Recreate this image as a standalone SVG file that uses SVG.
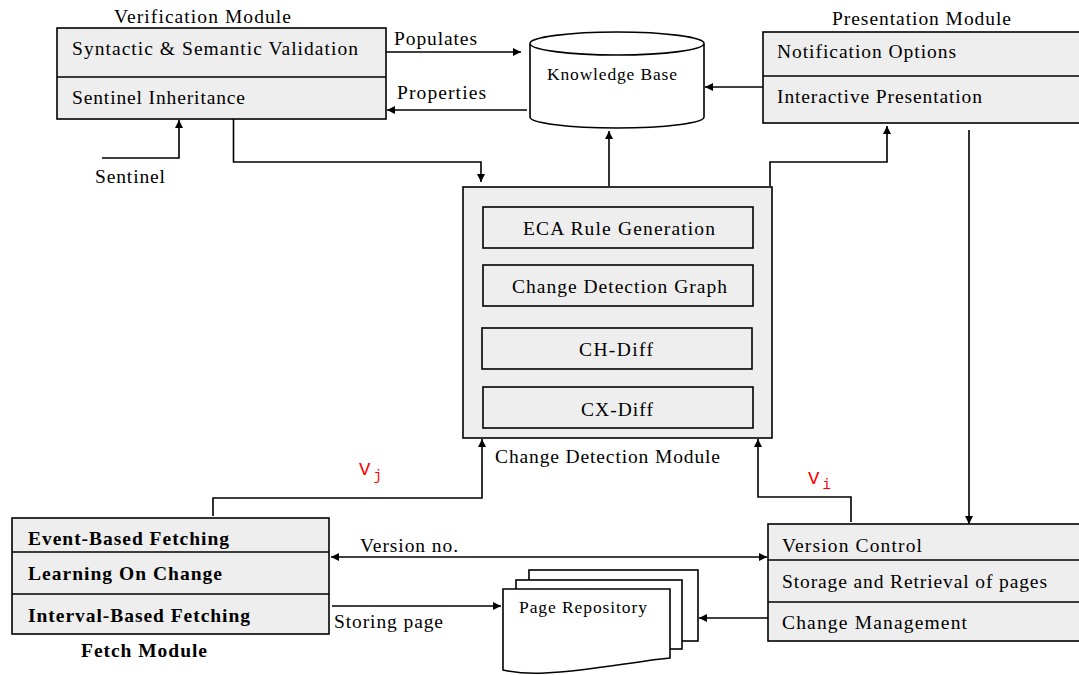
<svg xmlns="http://www.w3.org/2000/svg" width="1079" height="675" viewBox="0 0 1079 675">
  <style>
    .box { fill: #eeeeee; stroke: #000; stroke-width: 1.6; }
    .sub { fill: #eeeeee; stroke: #000; stroke-width: 1.6; }
    .div { stroke: #000; stroke-width: 1.6; }
    .doc { fill: #fff; stroke: #000; stroke-width: 1.6; }
    .t { font-family: "Liberation Serif", "Times New Roman", serif; font-size: 19.5px; fill: #000; }
    .s { font-family: "Liberation Serif", "Times New Roman", serif; font-size: 17.5px; fill: #000; }
    .b { font-family: "Liberation Serif", "Times New Roman", serif; font-size: 19.5px; font-weight: bold; fill: #000; }
    .v { font-family: "Liberation Mono", "Courier New", monospace; font-size: 19px; fill: #ff0000; }
    .ln { fill: none; stroke: #000; stroke-width: 1.6; }
  </style>
  <defs>
    <marker id="ah" viewBox="0 0 10 10" refX="10" refY="5" markerWidth="9" markerHeight="8" orient="auto-start-reverse" markerUnits="userSpaceOnUse">
      <path d="M0,0 L10,5 L0,10 z" fill="#000"/>
    </marker>
  </defs>
  <rect width="1079" height="675" fill="#fff"/>

  <!-- Verification Module -->
  <g id="verification-module">
    <text class="t" x="114" y="23" textLength="177" lengthAdjust="spacing">Verification Module</text>
    <rect class="box" x="57" y="28" width="329" height="91"/>
    <line class="div" x1="57" y1="77" x2="386" y2="77"/>
    <text class="t" x="72" y="55" textLength="286" lengthAdjust="spacing">Syntactic &amp; Semantic Validation</text>
    <text class="t" x="72" y="104" textLength="173" lengthAdjust="spacing">Sentinel Inheritance</text>
  </g>

  <!-- Knowledge Base -->
  <g id="knowledge-base">
    <path class="doc" d="M530,44 V117 A87,11 0 0 0 704,117 V44"/>
    <ellipse class="doc" cx="617" cy="43.5" rx="87" ry="11.5"/>
    <text class="s" x="547" y="80" textLength="130" lengthAdjust="spacing">Knowledge Base</text>
  </g>

  <!-- Presentation Module -->
  <g id="presentation-module">
    <text class="t" x="832" y="25" textLength="179" lengthAdjust="spacing">Presentation Module</text>
    <rect class="box" x="763" y="32" width="318" height="91"/>
    <line class="div" x1="763" y1="76" x2="1079" y2="76"/>
    <text class="t" x="777" y="58" textLength="179" lengthAdjust="spacing">Notification Options</text>
    <text class="t" x="777" y="103" textLength="205" lengthAdjust="spacing">Interactive Presentation</text>
  </g>

  <!-- Change Detection Module -->
  <g id="change-detection-module">
    <rect class="box" x="463" y="187" width="309" height="251"/>
    <rect class="sub" x="483" y="207" width="270" height="41"/>
    <text class="t" x="523" y="235" textLength="192" lengthAdjust="spacing">ECA Rule Generation</text>
    <rect class="sub" x="483" y="265" width="270" height="41"/>
    <text class="t" x="512" y="293" textLength="215" lengthAdjust="spacing">Change Detection Graph</text>
    <rect class="sub" x="482" y="328" width="270" height="41"/>
    <text class="t" x="579" y="356" textLength="74" lengthAdjust="spacing">CH-Diff</text>
    <rect class="sub" x="483" y="387" width="270" height="41"/>
    <text class="t" x="581" y="416" textLength="72" lengthAdjust="spacing">CX-Diff</text>
    <text class="t" x="495" y="463" textLength="225" lengthAdjust="spacing">Change Detection Module</text>
  </g>

  <!-- Fetch Module -->
  <g id="fetch-module">
    <rect class="box" x="12" y="518" width="317" height="116"/>
    <line class="div" x1="12" y1="552" x2="329" y2="552"/>
    <line class="div" x1="12" y1="594" x2="329" y2="594"/>
    <text class="b" x="28" y="545" textLength="201" lengthAdjust="spacing">Event-Based Fetching</text>
    <text class="b" x="28" y="580" textLength="194" lengthAdjust="spacing">Learning On Change</text>
    <text class="b" x="28" y="622" textLength="222" lengthAdjust="spacing">Interval-Based Fetching</text>
    <text class="b" x="81" y="657" textLength="126" lengthAdjust="spacing">Fetch Module</text>
  </g>

  <!-- Page Repository: stacked documents -->
  <g id="page-repository">
    <rect class="doc" x="529" y="570" width="169" height="71"/>
    <rect class="doc" x="516" y="580" width="166" height="69"/>
    <path class="doc" d="M503,589 H670 V658 C630,662 590,671 545,673 C528,674 512,672 503,670 Z"/>
    <text class="s" x="519" y="613" textLength="128" lengthAdjust="spacing">Page Repository</text>
  </g>

  <!-- Version Control -->
  <g id="version-control">
    <rect class="box" x="768" y="524" width="313" height="117"/>
    <line class="div" x1="768" y1="560" x2="1079" y2="560"/>
    <line class="div" x1="768" y1="602" x2="1079" y2="602"/>
    <text class="t" x="782" y="552" textLength="140" lengthAdjust="spacing">Version Control</text>
    <text class="t" x="782" y="588" textLength="265" lengthAdjust="spacing">Storage and Retrieval of pages</text>
    <text class="t" x="782" y="629" textLength="185" lengthAdjust="spacing">Change Management</text>
  </g>

  <!-- Connectors -->
  <g id="connectors">
    <path class="ln" d="M386,52 H521" marker-end="url(#ah)"/>
    <path class="ln" d="M527,110 H387" marker-end="url(#ah)"/>
    <path class="ln" d="M102,158 H179 V120" marker-end="url(#ah)"/>
    <path class="ln" d="M233.5,119 V162 H481 V182" marker-end="url(#ah)"/>
    <path class="ln" d="M763,87 H705" marker-end="url(#ah)"/>
    <path class="ln" d="M609,186 V131" marker-end="url(#ah)"/>
    <path class="ln" d="M770,186 V162 H887 V126" marker-end="url(#ah)"/>
    <path class="ln" d="M969,130 V524" marker-end="url(#ah)"/>
    <path class="ln" d="M213,516 V498 H482 V439" marker-end="url(#ah)"/>
    <path class="ln" d="M851,522 V497 H758 V439" marker-end="url(#ah)"/>
    <path class="ln" d="M331,557 H767" marker-start="url(#ah)" marker-end="url(#ah)"/>
    <path class="ln" d="M332,606 H501" marker-end="url(#ah)"/>
    <path class="ln" d="M768,618 H699" marker-end="url(#ah)"/>
  </g>

  <!-- Connector labels -->
  <g id="labels">
    <text class="t" x="394" y="45" textLength="83" lengthAdjust="spacing">Populates</text>
    <text class="t" x="397" y="99" textLength="89" lengthAdjust="spacing">Properties</text>
    <text class="t" x="95" y="183" textLength="70" lengthAdjust="spacing">Sentinel</text>
    <text class="t" x="360" y="552" textLength="98" lengthAdjust="spacing">Version no.</text>
    <text class="t" x="334" y="628" textLength="109" lengthAdjust="spacing">Storing page</text>
    <text class="v" x="359" y="475">V<tspan font-size="14" dx="3" dy="5">j</tspan></text>
    <text class="v" x="808" y="484">V<tspan font-size="14" dx="3" dy="5">i</tspan></text>
  </g>
</svg>
